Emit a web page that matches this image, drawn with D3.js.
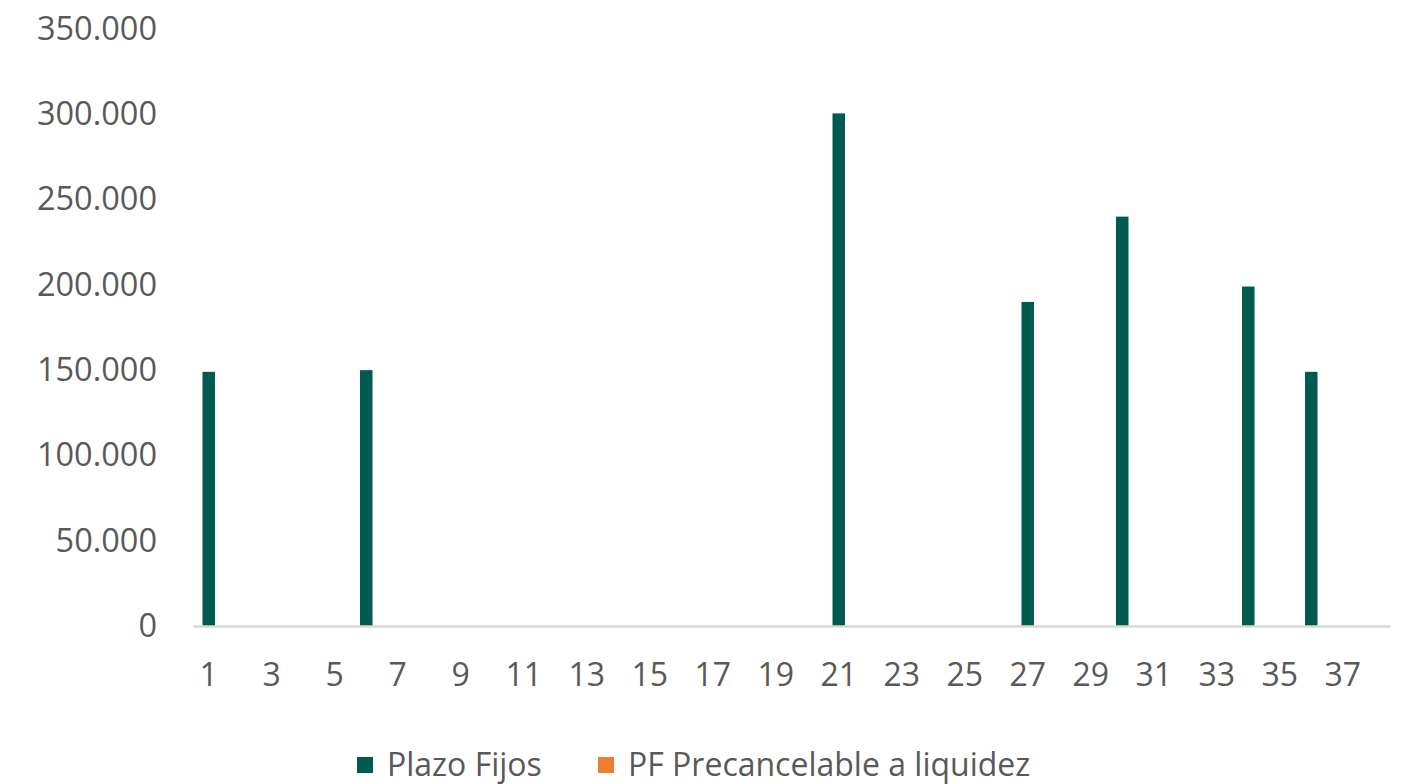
<!DOCTYPE html>
<html>
<head>
<meta charset="utf-8">
<script src="https://cdn.jsdelivr.net/npm/d3@7"></script>
<style>
  html, body { margin: 0; padding: 0; background: #fff; }
  svg text { font-family: "Open Sans", "Noto Sans", sans-serif; fill: #595959; }
</style>
</head>
<body>
<div id="chart"></div>
<script>
// categories (days 1..38)
var categories = [1, 2, 3, 4, 5, 6, 7, 8, 9, 10, 11, 12, 13, 14, 15, 16, 17, 18, 19,
  20, 21, 22, 23, 24, 25, 26, 27, 28, 29, 30, 31, 32, 33, 34, 35, 36, 37, 38];

var plazoFijos = [149000, 0, 0, 0, 0, 150000, 0, 0, 0, 0, 0, 0, 0, 0, 0, 0, 0, 0, 0,
  0, 300500, 0, 0, 0, 0, 0, 190000, 0, 0, 240000, 0, 0, 0, 199000, 0, 149000, 0, 0];

var pfPrecancelable = [0, 0, 0, 0, 0, 0, 0, 0, 0, 0, 0, 0, 0, 0, 0, 0, 0, 0, 0,
  0, 0, 0, 0, 0, 0, 0, 0, 0, 0, 0, 0, 0, 0, 0, 0, 0, 0, 0];

var yTicks = [0, 50000, 100000, 150000, 200000, 250000, 300000, 350000];
var seriesNames = ['Plazo Fijos', 'PF Precancelable a liquidez'];
var seriesColors = ['#005a50', '#ed7d31'];

var width = 1410, height = 784;
var margin = { top: 29, right: 20, bottom: 158, left: 193 };

var svg = d3.select('#chart')
  .append('svg')
  .attr('width', width)
  .attr('height', height);

var x = d3.scaleBand()
  .domain(categories)
  .range([margin.left, width - margin.right])
  .padding(0);

var y = d3.scaleLinear()
  .domain([0, 350000])
  .range([height - margin.bottom, margin.top]);

var fmt = function(v) {
  return d3.format(',')(v).replace(/,/g, '.');
};

// y axis labels (no line, no ticks)
var yAxis = d3.axisLeft(y)
  .tickValues(yTicks)
  .tickFormat(fmt)
  .tickSize(0)
  .tickPadding(36);

svg.append('g')
  .attr('transform', `translate(${margin.left},0)`)
  .call(yAxis)
  .call(g => g.select('.domain').remove())
  .selectAll('text')
  .style('font-size', '32.5px');

var barW = 12.5;

// bars
var series = [plazoFijos, pfPrecancelable];
series.forEach(function(vals, si) {
  svg.append('g')
    .selectAll('rect')
    .data(vals.map((v, i) => ({ cat: categories[i], v: v })).filter(d => d.v > 0))
    .enter()
    .append('rect')
    .attr('x', d => x(d.cat) + x.bandwidth() / 2 - barW / 2)
    .attr('width', barW)
    .attr('y', d => y(d.v))
    .attr('height', d => y(0) - y(d.v))
    .attr('fill', seriesColors[si]);
});

// x axis
var xAxis = d3.axisBottom(x)
  .tickValues(categories.filter(c => c % 2 === 1))
  .tickSize(0)
  .tickPadding(37);

var gx = svg.append('g')
  .attr('transform', `translate(0,${y(0)})`)
  .call(xAxis);

gx.select('.domain')
  .attr('stroke', '#d9d9d9')
  .attr('stroke-width', 2.5);

gx.selectAll('text')
  .style('font-size', '32px');

// legend
var legend = svg.append('g')
  .attr('transform', 'translate(357,765)');

var legendX = [0, 241];
seriesNames.forEach(function(name, i) {
  var item = legend.append('g')
    .attr('transform', `translate(${legendX[i]},0)`);
  item.append('rect')
    .attr('x', 0)
    .attr('y', -8)
    .attr('width', 16)
    .attr('height', 16)
    .attr('fill', seriesColors[i]);
  item.append('text')
    .attr('x', 30)
    .attr('y', 0)
    .attr('dy', '0.35em')
    .style('font-size', '32px')
    .text(name);
});
</script>
</body>
</html>
